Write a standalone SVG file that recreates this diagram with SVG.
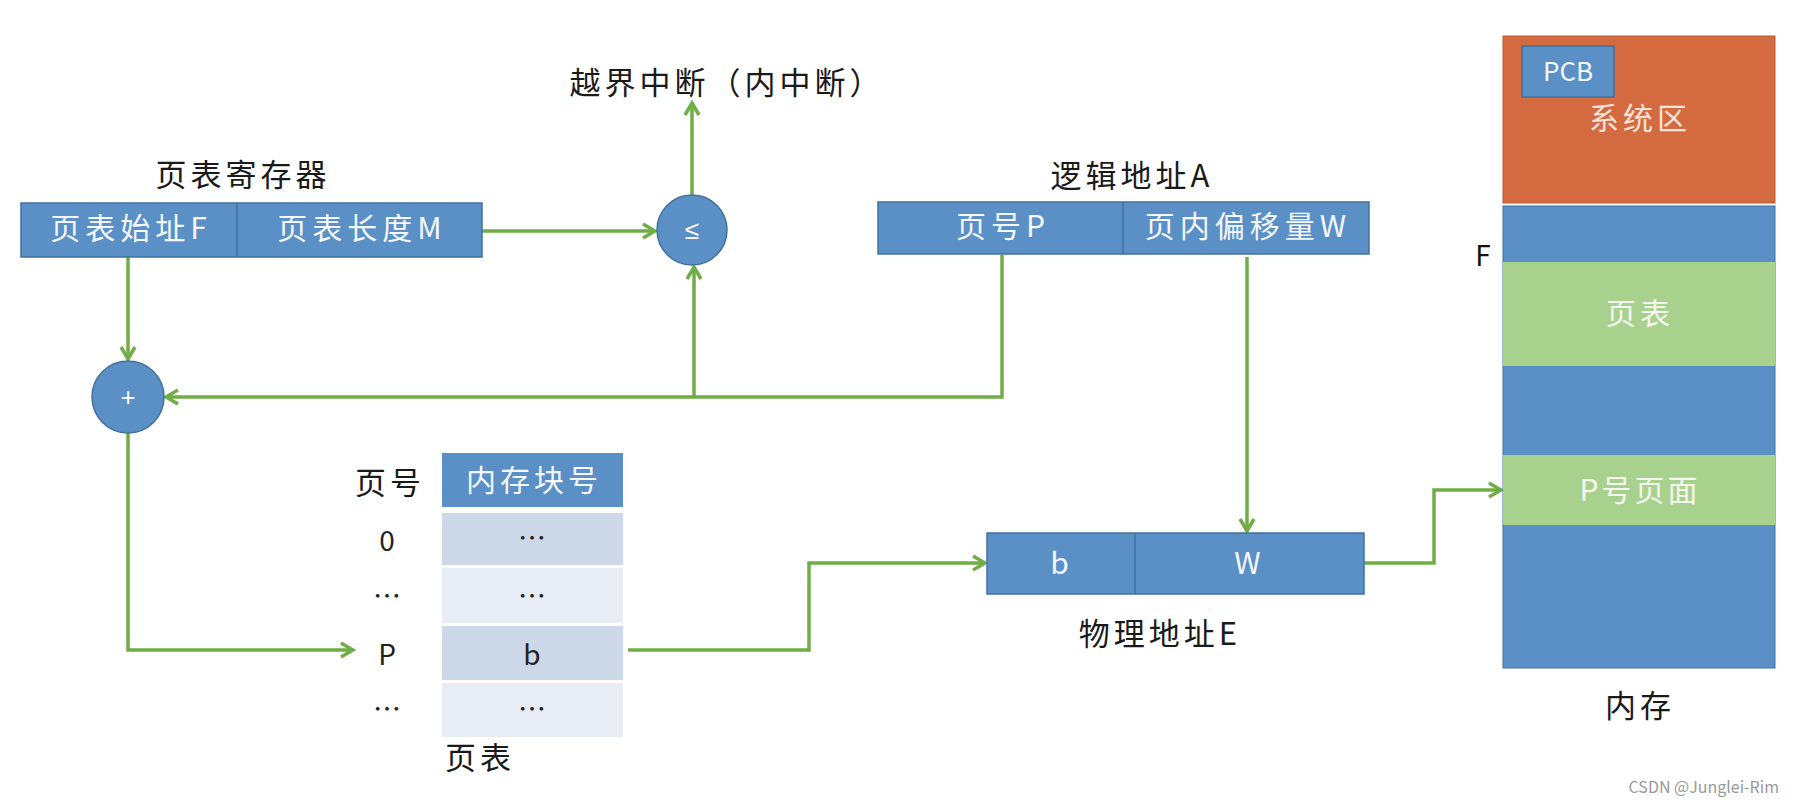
<svg xmlns="http://www.w3.org/2000/svg" width="1794" height="806" viewBox="0 0 1794 806">
<defs>
<style>
.t{font-family:"Noto Sans CJK SC","Liberation Sans",sans-serif;}
.blk{fill:#1a1a1a;font-size:31px;letter-spacing:4px;text-anchor:middle;}
.wht{fill:#f4f7fb;font-size:30px;letter-spacing:5px;text-anchor:middle;}
.box{fill:#5b90c6;stroke:#41719c;stroke-width:1.5;}
.cell{fill:#5b90c6;}
.rowd{fill:#cdd8e9;}
.rowl{fill:#e8edf5;}
.conn{fill:none;stroke:#70ad47;stroke-width:3.5;}
.dark{fill:#222;font-size:28px;text-anchor:middle;}
.sym{font-family:"Liberation Sans","DejaVu Sans",sans-serif;fill:#ffffff;text-anchor:middle;}
</style>
<marker id="ah" viewBox="0 0 20 20" refX="17" refY="10" markerWidth="20" markerHeight="20" markerUnits="userSpaceOnUse" orient="auto">
<path d="M5 3 L17 10 L5 17" fill="none" stroke="#70ad47" stroke-width="3.5" stroke-linejoin="miter"/>
</marker>
</defs>
<rect width="1794" height="806" fill="#ffffff"/>

<g id="connectors">
<path class="conn" d="M128 257 V359" marker-end="url(#ah)"/>
<path class="conn" d="M482 231 H655" marker-end="url(#ah)"/>
<path class="conn" d="M692 195 V103" marker-end="url(#ah)"/>
<path class="conn" d="M1002 255 V397 H166" marker-end="url(#ah)"/>
<path class="conn" d="M694 397 V267" marker-end="url(#ah)"/>
<path class="conn" d="M128 433 V650 H353" marker-end="url(#ah)"/>
<path class="conn" d="M628 650 H809 V563 H985" marker-end="url(#ah)"/>
<path class="conn" d="M1247 257 V531" marker-end="url(#ah)"/>
<path class="conn" d="M1364 563 H1434 V490 H1501" marker-end="url(#ah)"/>
</g>

<g id="interrupt">
<text class="t blk" x="727" y="94">越界中断（内中断）</text>
</g>

<g id="page-table-register">
<text class="t blk" x="243" y="186">页表寄存器</text>
<rect class="box" x="21" y="203" width="461" height="54"/>
<line x1="237" y1="203" x2="237" y2="257" stroke="#41719c" stroke-width="1.5"/>
<text class="t wht" x="131" y="239">页表始址F</text>
<text class="t wht" x="362" y="239">页表长度M</text>
</g>

<g id="compare">
<circle cx="692" cy="230" r="35" class="box"/>
<text class="sym" x="692" y="239" font-size="26">≤</text>
</g>

<g id="adder">
<circle cx="128" cy="397" r="36" class="box"/>
<text class="sym" x="128" y="406" font-size="26">+</text>
</g>

<g id="logical-address">
<text class="t blk" x="1132" y="187">逻辑地址A</text>
<rect class="box" x="878" y="202" width="491" height="52"/>
<line x1="1123" y1="202" x2="1123" y2="254" stroke="#41719c" stroke-width="1.5"/>
<text class="t wht" x="1003" y="237">页号P</text>
<text class="t wht" x="1248" y="237">页内偏移量W</text>
</g>

<g id="page-table">
<rect class="cell" x="442" y="453" width="181" height="54"/>
<rect class="rowd" x="442" y="513" width="181" height="52"/>
<rect class="rowl" x="442" y="568" width="181" height="55"/>
<rect class="rowd" x="442" y="626" width="181" height="54"/>
<rect class="rowl" x="442" y="683" width="181" height="54"/>
<text class="t" x="534" y="491" fill="#f4f7fb" font-size="30" letter-spacing="4" text-anchor="middle">内存块号</text>
<text class="t blk" x="390" y="494" letter-spacing="6">页号</text>
<text class="t dark" x="387" y="551">0</text>
<text class="t dark" x="387" y="607">…</text>
<text class="t dark" x="387" y="665">P</text>
<text class="t dark" x="387" y="720">…</text>
<text class="t dark" x="532" y="549">…</text>
<text class="t dark" x="532" y="607">…</text>
<text class="t dark" x="532" y="665">b</text>
<text class="t dark" x="532" y="720">…</text>
<text class="t blk" x="480" y="769">页表</text>
</g>

<g id="physical-address">
<rect class="box" x="987" y="533" width="377" height="61"/>
<line x1="1135" y1="533" x2="1135" y2="594" stroke="#41719c" stroke-width="1.5"/>
<text class="t wht" x="1062" y="574">b</text>
<text class="t wht" x="1250" y="574">W</text>
<text class="t blk" x="1160" y="645">物理地址E</text>
</g>

<g id="memory">
<rect x="1503" y="36" width="272" height="167" fill="#d46b40" stroke="#b85a33" stroke-width="1"/>
<rect class="box" x="1522" y="46" width="92" height="51"/>
<text class="t" x="1568" y="81" fill="#f4f7fb" font-size="26" text-anchor="middle">PCB</text>
<text class="t" x="1640" y="129" fill="#f6e2d8" font-size="30" letter-spacing="4" text-anchor="middle">系统区</text>
<rect x="1503" y="206" width="272" height="462" fill="#5b90c6" stroke="#41719c" stroke-width="1"/>
<rect x="1503" y="262" width="272" height="104" fill="#a9d18e"/>
<text class="t" x="1640" y="324" fill="#f4f7ee" font-size="30" letter-spacing="4" text-anchor="middle">页表</text>
<rect x="1503" y="455" width="272" height="70" fill="#a9d18e"/>
<text class="t" x="1640" y="501" fill="#f4f7ee" font-size="30" letter-spacing="3" text-anchor="middle">P号页面</text>
<text class="t" x="1483" y="266" fill="#111" font-size="28" text-anchor="middle">F</text>
<text class="t blk" x="1640" y="717">内存</text>
</g>

<text class="t" x="1779" y="793" fill="#999999" font-size="16" text-anchor="end">CSDN @Junglei-Rim</text>
</svg>
